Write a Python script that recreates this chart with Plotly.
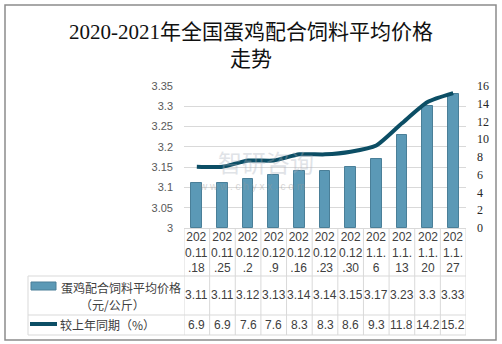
import plotly.graph_objects as go

# Weekly layer-feed price data
dates = ["2020.11.18", "2020.11.25", "2020.12.2", "2020.12.9", "2020.12.16",
         "2020.12.23", "2020.12.30", "2021.1.6", "2021.1.13", "2021.1.20", "2021.1.27"]
price = [3.11, 3.11, 3.12, 3.13, 3.14, 3.14, 3.15, 3.17, 3.23, 3.3, 3.33]
yoy = [6.9, 6.9, 7.6, 7.6, 8.3, 8.3, 8.6, 9.3, 11.8, 14.2, 15.2]

price_name = "蛋鸡配合饲料平均价格"
price_unit = "（元/公斤）"
yoy_name = "较上年同期（%）"
title_text = "2020-2021年全国蛋鸡配合饲料平均价格<br>走势"

left_ticks = [3, 3.05, 3.1, 3.15, 3.2, 3.25, 3.3, 3.35]
right_ticks = [0, 2, 4, 6, 8, 10, 12, 14, 16]

W, H = 502, 344
L, R, T, B = 184, 466, 86, 228  # plot area in pixels
PW, PH = R - L, B - T


def px(xp):
    return (xp - L) / PW


def py(yp):
    return (B - yp) / PH


def wrap(d):
    return d[:3] + "<br>" + d[3:7] + "<br>" + d[7:]


n = len(dates)
xs = list(range(n))

fig = go.Figure()
fig.add_trace(go.Bar(
    x=xs, y=[v - 3 for v in price], base=3, width=0.42,
    marker=dict(color="#5b99b6", line=dict(color="#4a7f98", width=1)),
    name=price_name, showlegend=False, hoverinfo="skip",
))
fig.add_trace(go.Scatter(
    x=xs, y=yoy, yaxis="y2", mode="lines",
    line=dict(color="#0c4e65", width=4, shape="spline", smoothing=0.6),
    name=yoy_name, showlegend=False, hoverinfo="skip",
))

grid = "#d9d9d9"
tcol = "#404040"
sans = "Liberation Sans, Noto Sans CJK SC"
cjk = "Noto Sans CJK SC"

shapes = []
annotations = []


def note(x, y, text, font, xref="paper", xanchor="center", **kw):
    annotations.append(dict(x=x, xref=xref, y=y, yref="paper", text=text,
                            showarrow=False, xanchor=xanchor,
                            yanchor="middle", font=font, **kw))


# outer frame
shapes.append(dict(type="rect", xref="paper", yref="paper",
                   x0=px(5), x1=px(496), y0=py(340), y1=py(5),
                   line=dict(color="#8c8c8c", width=1.5), layer="below"))

# data table grid
for i in range(n + 1):
    shapes.append(dict(type="line", xref="x", yref="paper",
                       x0=i - 0.5, x1=i - 0.5, y0=py(B), y1=py(335),
                       line=dict(color=grid, width=1)))
shapes.append(dict(type="line", xref="paper", yref="paper",
                   x0=px(28), x1=px(28), y0=py(276), y1=py(335),
                   line=dict(color=grid, width=1)))
for yy in [276, 315, 335]:
    shapes.append(dict(type="line", xref="paper", yref="paper",
                       x0=px(28), x1=px(R), y0=py(yy), y1=py(yy),
                       line=dict(color=grid, width=1)))

# legend keys
shapes.append(dict(type="rect", xref="paper", yref="paper",
                   x0=px(31), x1=px(56), y0=py(290), y1=py(282),
                   fillcolor="#5b99b6", line=dict(color="#4a7f98", width=1)))
shapes.append(dict(type="line", xref="paper", yref="paper",
                   x0=px(30), x1=px(57), y0=py(324), y1=py(324),
                   line=dict(color="#0c4e65", width=4)))

# category labels and values
tfont = dict(family=sans, size=12, color=tcol)
for i in range(n):
    note(i, py(252), wrap(dates[i]), tfont, xref="x", align="center")
    note(i, py(295), f"{price[i]:g}", tfont, xref="x")
    note(i, py(325), f"{yoy[i]:g}", tfont, xref="x")

cfont = dict(family=cjk, size=12, color=tcol)
note(px(121), py(287), price_name, cfont)
note(px(112), py(304), price_unit, cfont)
note(px(58), py(324), yoy_name, cfont, xanchor="left")

# watermark
note(px(266), py(161), "智研咨询",
     dict(family=cjk, size=24, color="#a9b0bd"), opacity=0.35)
note(px(252), py(186), "w w w . c h y x x . c o m",
     dict(family=sans, size=10, color="#9a9a9a"), opacity=0.4)

fig.update_layout(
    width=W, height=H,
    margin=dict(l=L, r=W - R, t=T, b=H - B, pad=0),
    paper_bgcolor="white", plot_bgcolor="white",
    title=dict(text=title_text, x=0.5, xref="container", xanchor="center",
               y=1 - 39 / H, yref="container", yanchor="middle",
               font=dict(family="Liberation Serif, Noto Sans CJK SC", size=21,
                         color="#111111")),
    xaxis=dict(range=[-0.5, n - 0.5], showticklabels=False, showgrid=False,
               zeroline=False, showline=True, linecolor=grid, ticks=""),
    yaxis=dict(range=[3, 3.35], tickvals=left_ticks,
               ticktext=[f"{v:g}" for v in left_ticks],
               showgrid=True, gridcolor=grid, gridwidth=1, zeroline=False,
               showline=False, ticks="", ticklabelstandoff=10,
               tickfont=dict(family=sans, size=11, color="#595959")),
    yaxis2=dict(range=[0, 16], tickvals=right_ticks, overlaying="y",
                side="right", showgrid=False, zeroline=False, showline=False,
                ticks="", ticklabelstandoff=10,
                tickfont=dict(family="Liberation Serif", size=12,
                              color="#262626")),
    shapes=shapes, annotations=annotations,
    bargap=0,
)

fig.write_html("out.html")
